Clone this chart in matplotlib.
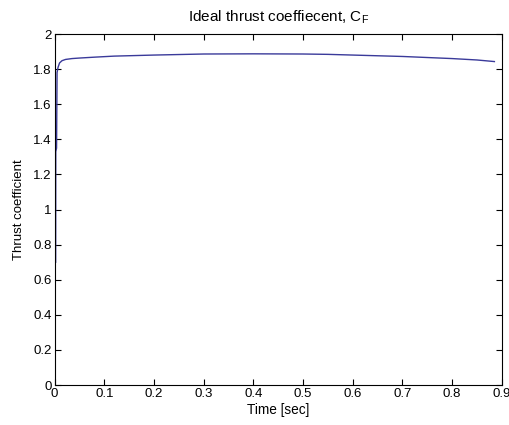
import matplotlib
matplotlib.use("Agg")
import matplotlib.pyplot as plt

time_s = [0.0022, 0.0024, 0.0040, 0.0050, 0.0070, 0.010, 0.015, 0.022, 0.035, 0.05,
          0.08, 0.12, 0.20, 0.30, 0.40, 0.50, 0.55, 0.60, 0.70, 0.75, 0.80, 0.85, 0.885]
thrust_coef = [0.70, 1.33, 1.35, 1.78, 1.81, 1.835, 1.848, 1.855, 1.860, 1.863,
               1.868, 1.874, 1.880, 1.886, 1.887, 1.886, 1.884, 1.880, 1.872, 1.866, 1.860, 1.852, 1.843]
xticks = [0, 0.1, 0.2, 0.3, 0.4, 0.5, 0.6, 0.7, 0.8, 0.9]
xticklabels = ["0", "0.1", "0.2", "0.3", "0.4", "0.5", "0.6", "0.7", "0.8", "0.9"]
yticks = [0, 0.2, 0.4, 0.6, 0.8, 1.0, 1.2, 1.4, 1.6, 1.8, 2.0]
yticklabels = ["0", "0.2", "0.4", "0.6", "0.8", "1", "1.2", "1.4", "1.6", "1.8", "2"]

plt.rcParams['font.family'] = ['Liberation Sans', 'DejaVu Sans']
fig = plt.figure(figsize=(5.1, 4.25), dpi=100)
ax = fig.add_axes([0.107, 0.094, 0.877, 0.826])
ax.plot(time_s, thrust_coef, color='#3a3a9a', linewidth=1.0)
ax.set_xlim(0, 0.9)
ax.set_ylim(0, 2)
ax.set_xticks(xticks)
ax.set_xticklabels(xticklabels)
ax.set_yticks(yticks)
ax.set_yticklabels(yticklabels)
ax.tick_params(direction='in', top=True, right=True, labelsize=9.5, length=4, width=0.8, pad=2)
for s in ax.spines.values():
    s.set_linewidth(0.8)
ax.set_xlabel("Time [sec]", fontsize=9.8, labelpad=2)
ax.set_ylabel("Thrust coefficient", fontsize=9.5, labelpad=6)
ax.set_title("Ideal thrust coeffiecent, C$_\\mathregular{F}$", fontsize=11, pad=9)
fig.savefig("out.png", dpi=100)
